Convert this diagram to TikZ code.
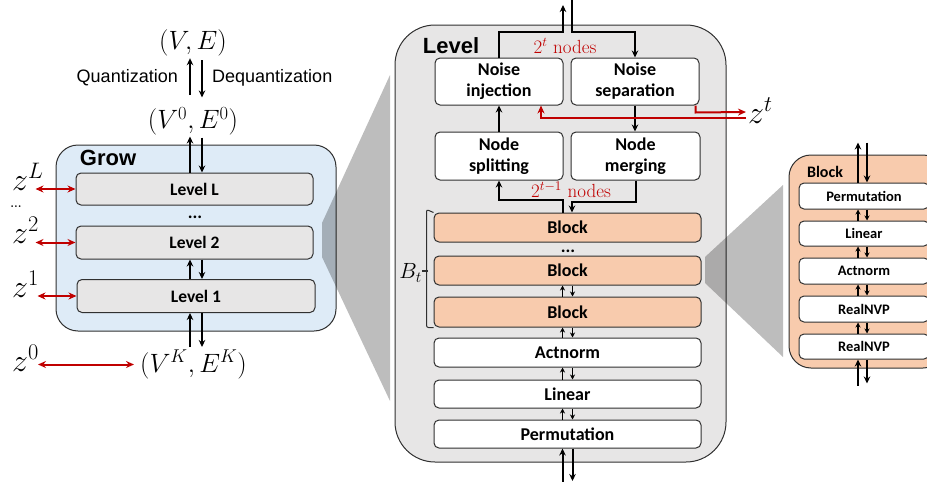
\RequirePackage{fix-cm}
\documentclass[tikz,border=0pt]{standalone}
\usepackage{fontspec}
\newfontfamily\carl{Carlito}
\newfontfamily\ars{Liberation Sans}
\usetikzlibrary{arrows.meta}
\definecolor{myred}{HTML}{C00000}
\definecolor{growblue}{HTML}{DEEBF7}
\definecolor{lvlgray}{HTML}{E7E6E6}
\definecolor{peach}{HTML}{F8CBAD}
\definecolor{bord}{HTML}{303030}
\begin{document}
\begin{tikzpicture}[x=1pt,y=-1pt,
  box/.style={draw=bord, line width=1pt, rounded corners=5pt, inner sep=0pt, align=center,
    font=\carl\bfseries\fontsize{18}{21}\selectfont},
  wbox/.style={box, fill=white},
  gbox/.style={box, fill=lvlgray},
  pbox/.style={box, fill=peach},
  sbox/.style={box, fill=white, font=\carl\bfseries\fontsize{14.5}{16}\selectfont, minimum width=130pt},
  container/.style={draw=bord, line width=1pt, inner sep=0pt},
  title/.style={font=\ars\bfseries\fontsize{22}{24}\selectfont, inner sep=0pt},
  mth/.style={font=\fontsize{26.5}{30}\selectfont, inner sep=0pt},
  zlab/.style={font=\fontsize{32}{36}\selectfont, inner sep=0pt, anchor=base west},
  redlab/.style={font=\fontsize{19}{22}\selectfont, text=myred, inner sep=0pt},
  plain/.style={font=\ars\fontsize{18}{20}\selectfont, inner sep=0pt},
  arr/.style={draw=black, line width=2pt, -{Stealth[length=7pt,width=6.5pt]}},
  sarr/.style={draw=black, line width=1.4pt, -{Stealth[length=5pt,width=5pt]}},
  rarr/.style={draw=myred, line width=2pt, {Stealth[length=8pt,width=7pt]}-{Stealth[length=8pt,width=7pt]}},
  rarr1/.style={draw=myred, line width=2pt, -{Stealth[length=8pt,width=7pt]}},
  wedge/.style={fill=black, fill opacity=0.26, draw=none}
]
\path[use as bounding box] (0,0) rectangle (927,482);
\clip (0,0) rectangle (927,482);

% ---------- containers ----------
\node[container, fill=growblue, rounded corners=22pt, minimum width=280pt, minimum height=186pt] (grow) at (196,238) {};
\node[container, fill=lvlgray, rounded corners=40pt, minimum width=331pt, minimum height=437pt] (level) at (560.5,243.5) {};
\node[container, fill=peach, rounded corners=22pt, minimum width=156pt, minimum height=213pt] (blockbox) at (867,261.5) {};

% ---------- zoom wedges ----------
\fill[wedge] (322,223) -- (390,75) -- (390,401) -- (322,257) -- cycle;
\fill[wedge] (705,257) -- (783,185) -- (783,357) -- (705,283) -- cycle;

% ---------- left: Grow ----------
\node[title] at (108,158) {Grow};
\node[gbox, minimum width=237pt, minimum height=32pt] (lvlL) at (194.5,189) {\fontsize{17.5}{19}\selectfont Level L};
\node[gbox, minimum width=237pt, minimum height=33pt] (lvl2) at (194.5,242.5) {\fontsize{17.5}{19}\selectfont Level 2};
\node[gbox, minimum width=238pt, minimum height=33pt] (lvl1) at (196,296) {\fontsize{17.5}{19}\selectfont Level 1};
\node[font=\carl\bfseries\fontsize{18}{20}\selectfont, inner sep=0pt, anchor=base] (gdots) at (195,218) {...};

\node[mth] (vE) at (193,43) {$(V,E)$};
\node[mth] (v0) at (193,121.5) {$(V^0,E^0)$};
\node[mth] (vK) at (193.5,364.5) {$(V^K,E^K)$};
\node[plain, anchor=east] (quant) at (178,78) {Quantization};
\node[plain, anchor=west] (dequant) at (212,78) {Dequantization};

\draw[arr] ([xshift=-3pt]v0.north) ++(0,-12) -- ++(0,-37);
\draw[arr] ([xshift=9pt]vE.south) ++(0,4) -- ++(0,37);
\draw[arr] ([xshift=-4.5pt]lvlL.north) -- ++(0,-36);
\draw[arr] ([xshift=7.5pt]lvlL.north) ++(0,-35) -- ([xshift=7.5pt]lvlL.north);
\draw[arr] ([xshift=-6pt]lvl1.north) -- ([xshift=-6pt]lvl1.north |- lvl2.south);
\draw[arr] ([xshift=6pt]lvl1.north |- lvl2.south) -- ([xshift=6pt]lvl1.north);
\coordinate (kup) at (190,347);
\coordinate (kdn) at (202,347);
\draw[arr] (kup) -- (kup |- lvl1.south);
\draw[arr] (kdn |- lvl1.south) -- (kdn);

\node[zlab] (zL) at (12,190) {$z^L$};
\node[font=\bfseries\fontsize{12}{13}\selectfont, inner sep=0pt, anchor=base] (zdots) at (16,207) {...};
\node[zlab] (z2) at (12,243) {$z^2$};
\node[zlab] (z1) at (12,297) {$z^1$};
\node[zlab] (z0) at (12,371) {$z^0$};
\draw[rarr] ([xshift=-40pt]lvlL.west) -- (lvlL.west);
\draw[rarr] ([xshift=-40pt]lvl2.west) -- (lvl2.west);
\draw[rarr] ([xshift=-39pt]lvl1.west) -- (lvl1.west);
\draw[rarr, shorten >=6pt] ([xshift=-102pt]vK.west) -- (vK.west);

% ---------- middle: Level ----------
\node[title] at (451,46) {Level};
\node[wbox, minimum width=128pt, minimum height=47pt] (ni) at (499,81.5) {Noise\\injection};
\node[wbox, minimum width=128pt, minimum height=47pt] (ns) at (635,81.5) {Noise\\separation};
\node[wbox, minimum width=128pt, minimum height=48pt] (nsp) at (499,156) {Node\\splitting};
\node[wbox, minimum width=129pt, minimum height=48pt] (nm) at (635.5,156) {Node\\merging};

\node[pbox, minimum width=267pt, minimum height=29pt] (b1) at (567.5,227.5) {Block};
\node[font=\carl\bfseries\fontsize{18}{20}\selectfont, inner sep=0pt, anchor=base] (bdots) at (568,252) {...};
\node[pbox, minimum width=267pt, minimum height=29pt] (b2) at (567.5,270.5) {Block};
\node[pbox, minimum width=267pt, minimum height=30pt] (b3) at (567.5,312) {Block};
\node[wbox, minimum width=267pt, minimum height=29pt] (act) at (567.5,352.5) {Actnorm};
\node[wbox, minimum width=267pt, minimum height=28pt] (lin) at (567.5,394) {Linear};
\node[wbox, minimum width=267pt, minimum height=28pt] (perm) at (567.5,434) {Permutation};

\coordinate (topout) at (563,5);
\coordinate (topin) at (572,-2);
\draw[arr] (ni.north) -- ++(0,-26) -| (topout);
\draw[arr] (topin) -- ++(0,34) -| (ns.north);
\node[redlab] (tnodes) at (565,46) {$2^t$ nodes};
\draw[arr] (ns.south) -- (ns.south |- nm.north);
\draw[arr] (nsp.north) -- (ni.south);
\draw[arr] (nm.south) -- ++(0,21) -| ([xshift=4.5pt]b1.north);
\draw[arr] ([xshift=-4.5pt]b1.north) -- ++(0,-13) -| (nsp.south);
\node[redlab] (t1nodes) at (571,190) {$2^{t-1}$ nodes};

\foreach \a/\b in {b2/b3,b3/act,act/lin,lin/perm}{
  \draw[sarr] ([xshift=-5pt]\b.north) -- ([xshift=-5pt]\a.south);
  \draw[sarr] ([xshift=5pt]\a.south) -- ([xshift=5pt]\b.north);
}
\coordinate (botup) at (562.5,484);
\coordinate (botdn) at (572.5,481);
\draw[arr] (botup) -- (botup |- perm.south);
\draw[arr] (botdn |- perm.south) -- (botdn);

% noise out
\node[zlab] (zt) at (748,123) {$z^t$};
\coordinate (ztin) at (746,112);
\coordinate (ztout) at (746,118);
\draw[rarr1] ([xshift=-4pt]ns.south east) -- ++(0,7) -- (ztin);
\draw[rarr1] (ztout) -| ([xshift=42pt]ni.south);

% brace B_t
\draw[draw=bord, line width=1pt, rounded corners=2pt] (b1.north west) -- ++(-7,-3) -- ([xshift=-7pt]b3.south west) -- (b3.south west);
\coordinate (bmid) at (428,271);
\draw[draw=bord, line width=1.5pt] (bmid) -- ++(-6,0);
\node[font=\fontsize{22}{24}\selectfont, inner sep=0pt, anchor=east] (bt) at (422,273) {$B_t$};

% ---------- right: Block ----------
\node[font=\carl\bfseries\fontsize{16}{18}\selectfont, inner sep=0pt] at (825,172) {Block};
\node[sbox, minimum height=26pt] (rp) at (864,196) {Permutation};
\node[sbox, minimum height=25pt] (rl) at (864,233.5) {Linear};
\node[sbox, minimum height=26pt] (ra) at (864,271) {Actnorm};
\node[sbox, minimum height=26pt] (rr1) at (864,309) {RealNVP};
\node[sbox, minimum height=25pt] (rr2) at (864,346.5) {RealNVP};
\foreach \a/\b in {rp/rl,rl/ra,ra/rr1,rr1/rr2}{
  \draw[sarr] ([xshift=-6pt]\b.north) -- ([xshift=-6pt]\a.south);
  \draw[sarr] ([xshift=3pt]\a.south) -- ([xshift=3pt]\b.north);
}
\draw[arr] ([xshift=-6pt]rp.north) -- ++(0,-40);
\draw[arr] ([xshift=3pt]rp.north) ++(0,-40) -- ([xshift=3pt]rp.north);
\draw[arr] ([xshift=-6pt]rr2.south) ++(0,26) -- ([xshift=-6pt]rr2.south);
\draw[arr] ([xshift=3pt]rr2.south) -- ++(0,24);
\end{tikzpicture}
\end{document}
